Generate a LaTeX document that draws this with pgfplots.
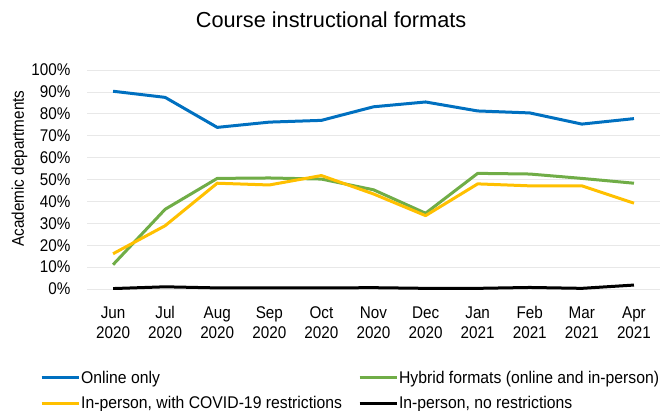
\documentclass[border=0pt]{standalone}
\usepackage{fontspec}
\setmainfont{Liberation Sans}[FakeStretch=0.9]
\newfontfamily\legfont{Liberation Sans}[FakeStretch=0.93]
\newfontfamily\titlefont{Liberation Sans}
\usepackage{pgfplots}
\pgfplotsset{compat=1.18}
\definecolor{cblue}{HTML}{0070C0}
\definecolor{cgreen}{HTML}{70AD47}
\definecolor{cgold}{HTML}{FFC000}
\begin{document}
\begin{tikzpicture}
\begin{axis}[
  scale only axis,
  width=573bp, height=219bp,
  xmin=-0.5, xmax=10.5, ymin=0, ymax=100,
  axis line style={draw=none},
  tick style={draw=none},
  ymajorgrids, grid style={gray!18, line width=0.8pt},
  ytick={0,10,...,100},
  yticklabel={\pgfmathprintnumber{\tick}\%},
  /pgf/number format/assume math mode=true,
  xtick={0,...,10},
  xticklabels={{Jun\\2020},{Jul\\2020},{Aug\\2020},{Sep\\2020},{Oct\\2020},{Nov\\2020},{Dec\\2020},{Jan\\2021},{Feb\\2021},{Mar\\2021},{Apr\\2021}},
  xticklabel style={align=center, font=\fontsize{17}{20}\selectfont, yshift=-14bp},
  yticklabel style={font=\fontsize{17}{20}\selectfont, xshift=-13bp},
  ylabel={Academic departments},
  ylabel style={font=\fontsize{17}{20}\selectfont, at={(axis description cs:-0.118,0.55)}, anchor=center},
  title={\titlefont Course instructional formats},
  title style={font=\fontsize{21.8}{24}\selectfont, at={(axis description cs:0.426,1)}, anchor=base, yshift=37bp},
  legend columns=2,
  legend style={at={(axis description cs:-0.082,-0.368)}, anchor=north west, draw=none, inner sep=0pt,
    font=\legfont\fontsize{17}{20}\selectfont,
    nodes={inner sep=1bp},
    /tikz/every even column/.append style={column sep=15bp},
    row sep=10bp},
  legend cell align=left,
  legend image code/.code={\draw[#1, line width=3bp] (0bp,0bp) -- (37bp,0bp);},
  every axis plot/.append style={line width=3bp, line join=round},
]
\addplot[cblue] coordinates {(0,90.3)(1,87.5)(2,73.8)(3,76.2)(4,77.0)(5,83.2)(6,85.4)(7,81.3)(8,80.4)(9,75.3)(10,77.8)};
\addlegendentry{Online only}
\addplot[cgreen] coordinates {(0,11.1)(1,36.4)(2,50.5)(3,50.7)(4,50.2)(5,45.3)(6,34.6)(7,52.8)(8,52.5)(9,50.5)(10,48.3)};
\addlegendentry{Hybrid formats (online and in-person)}
\addplot[cgold] coordinates {(0,16.1)(1,28.9)(2,48.3)(3,47.5)(4,51.8)(5,43.4)(6,33.5)(7,48.0)(8,47.1)(9,47.1)(10,39.2)};
\addlegendentry{In-person, with COVID-19 restrictions}
\addplot[black] coordinates {(0,0.2)(1,1.0)(2,0.5)(3,0.5)(4,0.5)(5,0.6)(6,0.3)(7,0.3)(8,0.7)(9,0.3)(10,1.8)};
\addlegendentry{In-person, no restrictions}
\end{axis}
\pgfresetboundingbox
\path[use as bounding box] (current axis.south west) ++(-87bp,-122bp) rectangle ++(662bp,411bp);
\end{tikzpicture}
\end{document}
